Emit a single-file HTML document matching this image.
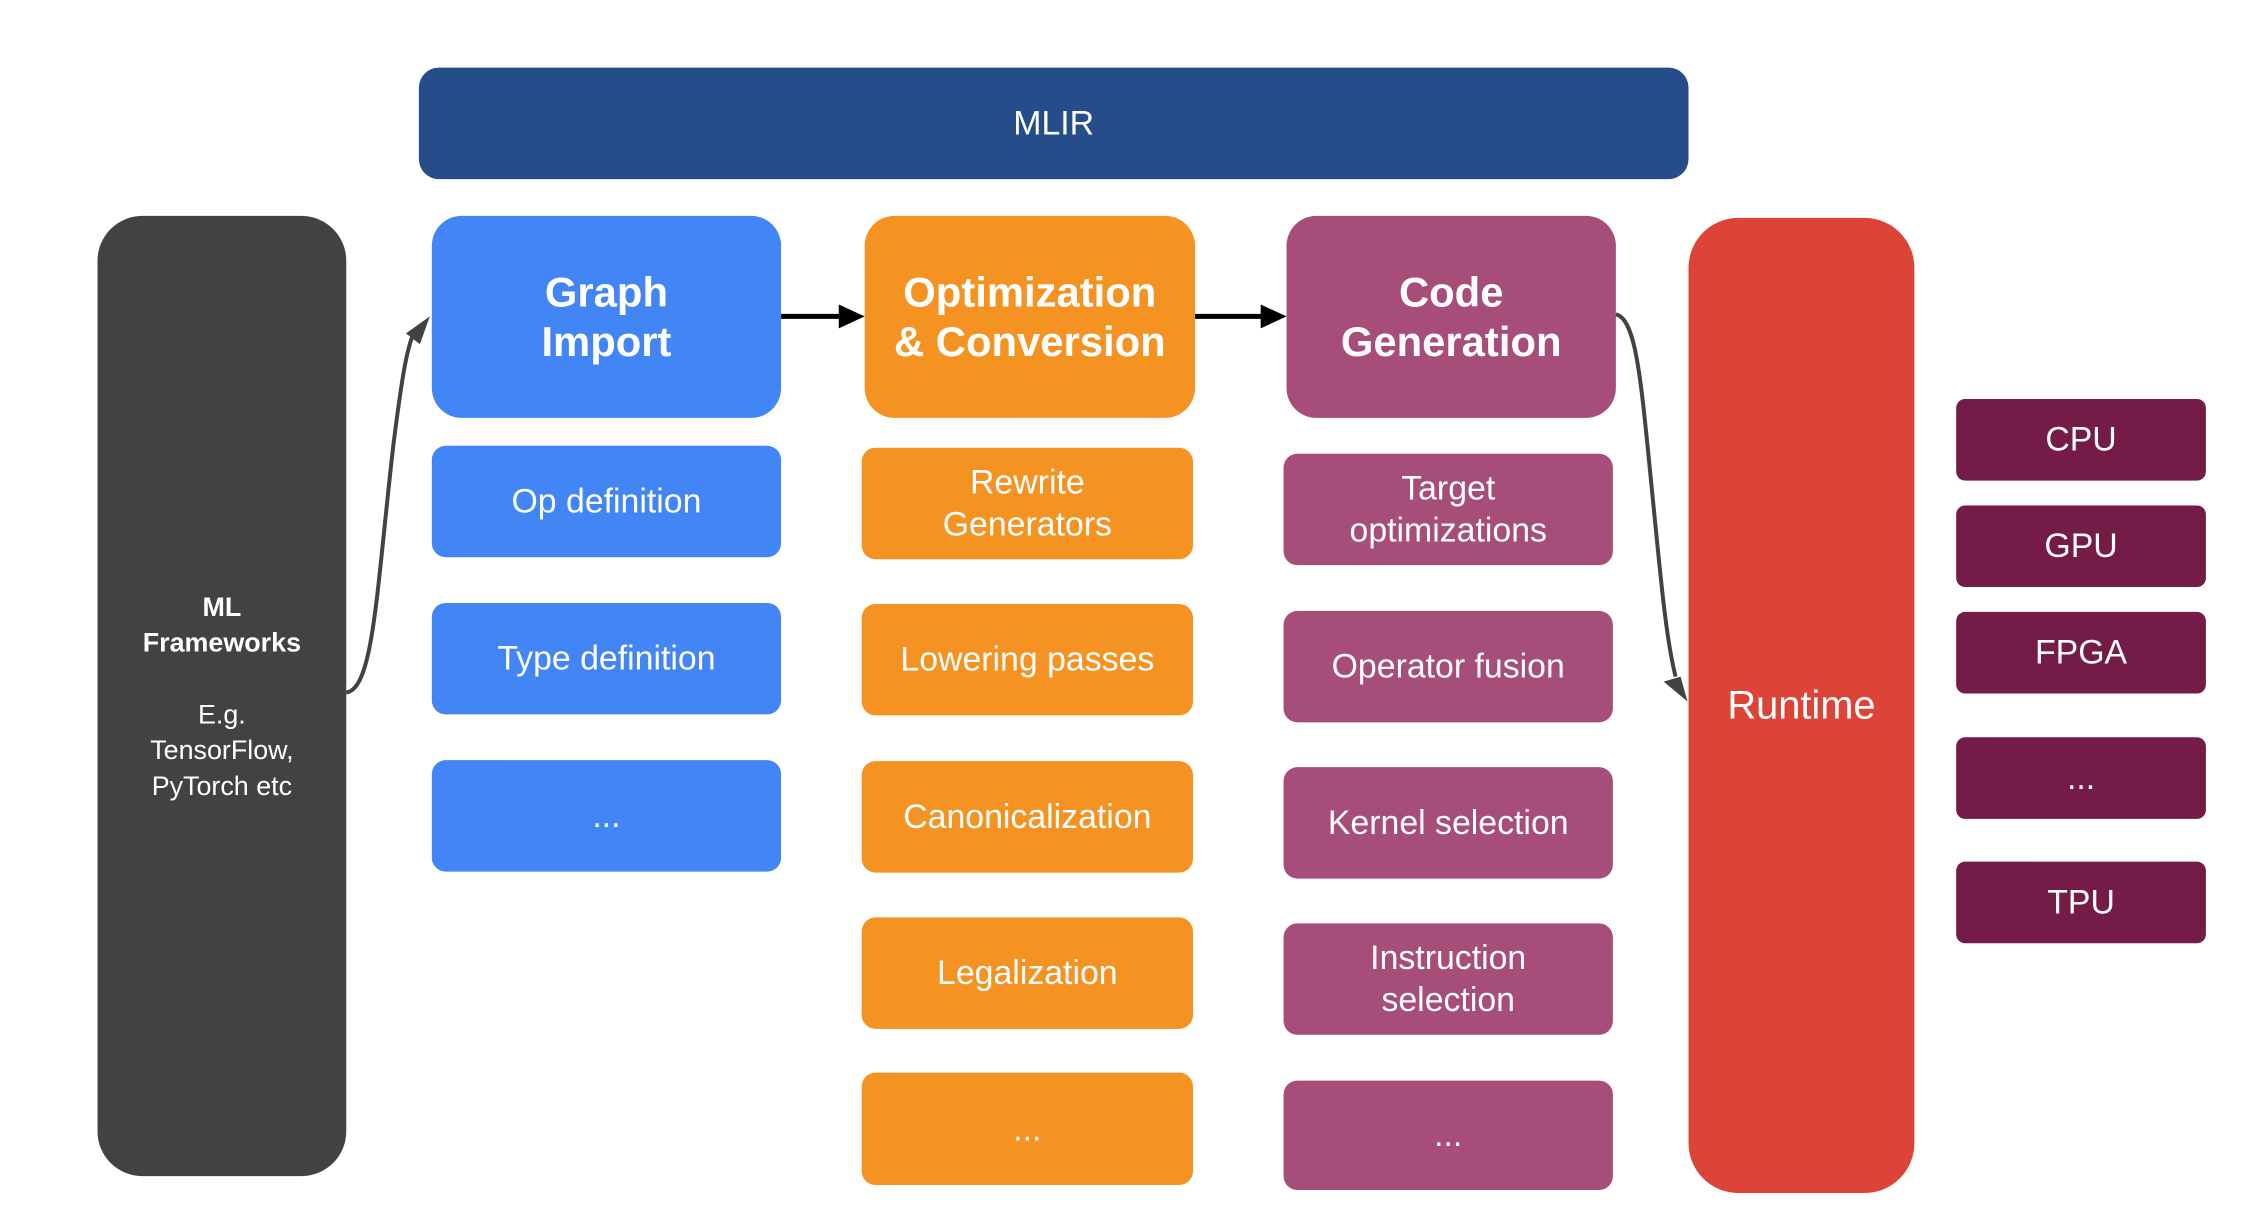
<!DOCTYPE html>
<html><head><meta charset="utf-8"><style>
body{margin:0;width:2243px;height:1210px;background:#fff;position:relative;overflow:hidden;font-family:"Liberation Sans",sans-serif;}
#w{position:absolute;left:0;top:0;width:2243px;height:1210px;transform:scale(0.995);transform-origin:0 0;}
.b{position:absolute;display:flex;align-items:center;justify-content:center;text-align:center;color:#fff;box-sizing:border-box;}
.h{font-weight:bold;font-size:42px;line-height:50px;border-radius:30px;}
.s{font-size:34px;line-height:42px;border-radius:14px;}
.bl{background:#4285f4}.or{background:#f59322}.pu{background:#a64d79}.mr{background:#741b47}
</style></head><body><div id="w">
<div class="b" style="left:421px;top:68px;width:1276px;height:112px;background:#254d8a;border-radius:20px;font-size:34px;">MLIR</div>
<div class="b" style="left:98px;top:217px;width:250px;height:965px;background:#424242;border-radius:45px;font-size:27px;line-height:36px;"><div><b>ML<br>Frameworks</b><br><br>E.g.<br>TensorFlow,<br>PyTorch etc</div></div>

<div class="b h bl" style="left:434px;top:217px;width:351px;height:203px;">Graph<br>Import</div>
<div class="b s bl" style="left:434px;top:448px;width:351px;height:112px;">Op definition</div>
<div class="b s bl" style="left:434px;top:606px;width:351px;height:112px;">Type definition</div>
<div class="b s bl" style="left:434px;top:764px;width:351px;height:112px;">...</div>

<div class="b h or" style="left:869px;top:217px;width:332px;height:203px;">Optimization<br>&amp; Conversion</div>
<div class="b s or" style="left:866px;top:450px;width:333px;height:112px;">Rewrite<br>Generators</div>
<div class="b s or" style="left:866px;top:607px;width:333px;height:112px;">Lowering passes</div>
<div class="b s or" style="left:866px;top:765px;width:333px;height:112px;">Canonicalization</div>
<div class="b s or" style="left:866px;top:922px;width:333px;height:112px;">Legalization</div>
<div class="b s or" style="left:866px;top:1078px;width:333px;height:113px;">...</div>

<div class="b h pu" style="left:1293px;top:217px;width:331px;height:203px;">Code<br>Generation</div>
<div class="b s pu" style="left:1290px;top:456px;width:331px;height:112px;">Target<br>optimizations</div>
<div class="b s pu" style="left:1290px;top:614px;width:331px;height:112px;">Operator fusion</div>
<div class="b s pu" style="left:1290px;top:771px;width:331px;height:112px;">Kernel selection</div>
<div class="b s pu" style="left:1290px;top:928px;width:331px;height:112px;">Instruction<br>selection</div>
<div class="b s pu" style="left:1290px;top:1086px;width:331px;height:110px;">...</div>

<div class="b" style="left:1697px;top:219px;width:227px;height:980px;background:#db4437;border-radius:50px;font-size:40px;">Runtime</div>

<div class="b s mr" style="left:1966px;top:401px;width:251px;height:82px;border-radius:9px;">CPU</div>
<div class="b s mr" style="left:1966px;top:508px;width:251px;height:82px;border-radius:9px;">GPU</div>
<div class="b s mr" style="left:1966px;top:615px;width:251px;height:82px;border-radius:9px;">FPGA</div>
<div class="b s mr" style="left:1966px;top:741px;width:251px;height:82px;border-radius:9px;">...</div>
<div class="b s mr" style="left:1966px;top:866px;width:251px;height:82px;border-radius:9px;">TPU</div>

<svg style="position:absolute;left:0;top:0" width="2243" height="1210">
<g stroke="#000" stroke-width="5" fill="none">
<line x1="785" y1="318" x2="845" y2="318"/>
<line x1="1201" y1="318" x2="1268" y2="318"/>
</g>
<polygon points="869,318 843,306 843,330" fill="#000"/>
<polygon points="1293,318 1267,306 1267,330" fill="#000"/>
<g stroke="#424242" stroke-width="4" fill="none">
<path d="M348,696 C375,692 378,600 395,450 C405,370 410,345 418,330"/>
<path d="M1624,316 C1644,320 1649,380 1659,480 C1669,580 1674,640 1684,680"/>
</g>
<polygon points="432,318 408,335 422,346" fill="#424242"/>
<polygon points="1696,705 1672,685 1689,680" fill="#424242"/>
</svg>
</div></body></html>
